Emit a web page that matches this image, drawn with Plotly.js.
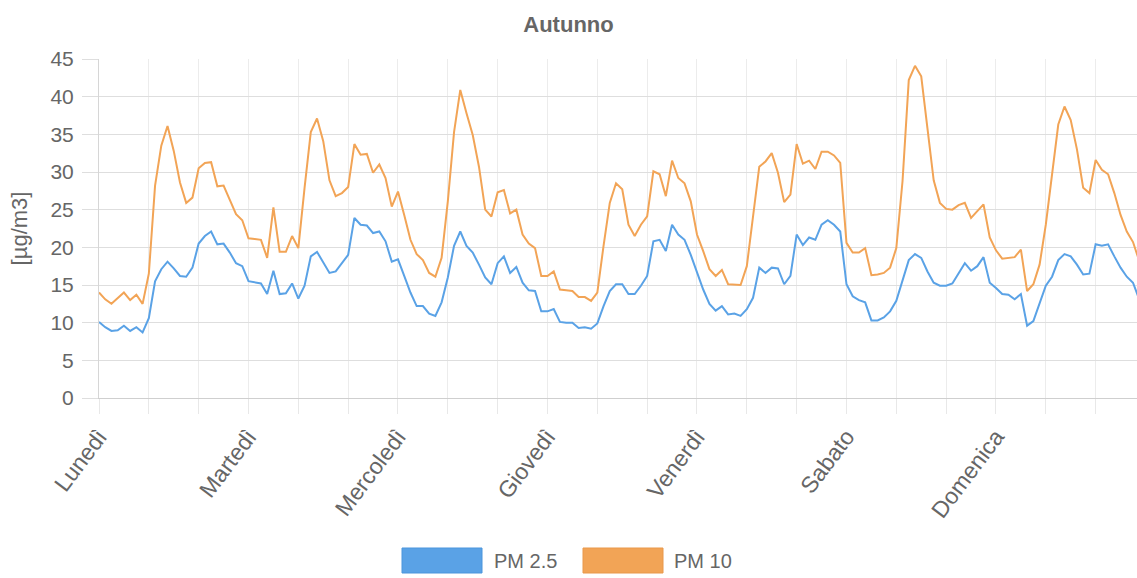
<!DOCTYPE html>
<html>
<head>
<meta charset="utf-8">
<script src="https://cdn.plot.ly/plotly-3.0.1.min.js"></script>
<style>html,body{margin:0;padding:0;background:#fff;}#chart{width:1137px;height:578px;}</style>
</head>
<body>
<div id="chart"></div>
<script>
const dayLabels = ["Lunedì","Martedì","Mercoledì","Giovedì","Venerdì","Sabato","Domenica"];
const hoursPerDay = 24;

const pm25 = [
10.1,9.4,8.9,9.0,9.6,8.9,9.4,8.7,10.6,15.5,17.1,18.1,17.2,16.2,16.1,17.3,20.5,21.5,22.1,20.4,20.5,19.3,17.9,17.5,
15.5,15.4,15.2,13.8,16.9,13.8,13.9,15.2,13.2,14.9,18.8,19.4,17.9,16.6,16.8,17.9,19.0,23.9,23.0,22.9,21.9,22.1,20.8,18.1,
18.4,16.2,14.0,12.2,12.2,11.2,10.9,12.7,16.0,20.2,22.1,20.2,19.3,17.7,16.0,15.1,17.9,18.8,16.6,17.4,15.3,14.3,14.2,11.5,
11.5,11.8,10.1,10.0,10.0,9.3,9.4,9.2,9.9,12.2,14.2,15.1,15.1,13.8,13.8,14.9,16.2,20.8,21.0,19.5,23.0,21.7,21.0,19.0,
16.6,14.4,12.5,11.6,12.2,11.1,11.2,10.9,11.8,13.3,17.3,16.6,17.3,17.2,15.1,16.2,21.7,20.3,21.3,21.0,23.0,23.6,23.0,22.1,
15.1,13.5,13.0,12.7,10.3,10.3,10.7,11.5,12.9,15.5,18.3,19.1,18.6,16.8,15.3,14.9,14.9,15.2,16.6,17.9,16.9,17.5,18.7,15.3,
14.6,13.8,13.7,13.1,13.8,9.6,10.2,12.7,14.9,16.1,18.3,19.1,18.8,17.7,16.4,16.5,20.4,20.2,20.4,18.8,17.3,16.1,15.3,13.1
];

const pm10 = [
14.0,13.1,12.5,13.3,14.0,13.0,13.7,12.5,16.5,28.2,33.5,36.1,32.8,28.6,25.9,26.6,30.5,31.2,31.3,28.1,28.2,26.3,24.4,23.6,
21.2,21.1,21.0,18.6,25.3,19.4,19.4,21.5,19.9,27.9,35.3,37.1,34.1,28.9,26.8,27.2,28.0,33.7,32.3,32.4,29.9,31.0,29.2,25.4,
27.4,24.3,21.0,19.1,18.3,16.6,16.1,18.6,26.1,35.3,40.9,37.8,34.9,30.7,25.0,24.1,27.3,27.6,24.5,25.0,21.7,20.5,19.9,16.2,
16.2,16.8,14.4,14.3,14.2,13.4,13.4,12.9,14.0,20.2,25.9,28.5,27.7,23.0,21.5,23.0,24.1,30.1,29.7,26.8,31.5,29.2,28.5,26.1,
21.7,19.5,17.1,16.2,17.0,15.1,15.1,15.0,17.5,24.4,30.7,31.4,32.5,29.9,26.0,27.0,33.7,31.1,31.5,30.4,32.7,32.7,32.2,31.2,
20.6,19.3,19.3,19.9,16.3,16.4,16.6,17.3,19.9,28.8,42.2,44.1,42.7,35.8,28.9,25.9,25.1,25.0,25.6,25.9,23.9,24.8,25.7,21.3,
19.6,18.5,18.6,18.7,19.7,14.2,15.1,17.7,23.0,29.6,36.3,38.7,36.9,33.0,27.9,27.2,31.6,30.3,29.7,27.2,24.3,22.1,20.7,18.2
];

const seriesNames = ["PM 2.5", "PM 10"];
const chartTitle = "Autunno";
const yTitle = "[µg/m3]";

const xs = pm25.map((_, i) => i);
const tickStep = 8;
const tickvals = [], ticktext = [];
for (let i = 0; i <= pm25.length; i += tickStep) {
  tickvals.push(i);
  ticktext.push(i % hoursPerDay === 0 ? dayLabels[i / hoursPerDay] || "" : "");
}

const blue = "#5aa2e6", orange = "#f2a456";
const font = "Liberation Sans, Arial, sans-serif";

const traces = [
  {x: xs, y: pm25, type: "scatter", mode: "lines", name: seriesNames[0], line: {color: blue, width: 2}, hoverinfo: "skip"},
  {x: xs, y: pm10, type: "scatter", mode: "lines", name: seriesNames[1], line: {color: orange, width: 2}, hoverinfo: "skip"}
];

// legend geometry (pixel -> paper)
const L = 99, W = 1038, T = 59, H = 339;
const px = v => (v - L) / W, py = v => (T + H - v) / H;

const layout = {
  width: 1137, height: 578,
  margin: {l: L, r: 1137 - L - W, t: T, b: 578 - T - H, pad: 0},
  paper_bgcolor: "#fff", plot_bgcolor: "#fff",
  showlegend: false,
  font: {family: font, color: "#666", size: 18},
  title: {text: chartTitle, x: 0.5, xanchor: "center", y: 1 - 24/578, yanchor: "middle", yref: "container",
          font: {family: font, size: 22, color: "#666", weight: "bold"}},
  xaxis: {
    range: [0, W / 6.229], tickmode: "array", tickvals: tickvals, ticktext: ticktext,
    tickangle: -53, ticks: "outside", ticklen: 15, tickcolor: "#e8e8e8", tickwidth: 1,
    showgrid: true, gridcolor: "#ececec", gridwidth: 1, zeroline: false,
    showline: true, linecolor: "#cfcfcf", linewidth: 1,
    tickfont: {family: font, size: 23, color: "#666"}, fixedrange: true
  },
  yaxis: {
    range: [0, 45], tickmode: "array", tickvals: [0,5,10,15,20,25,30,35,40,45],
    ticks: "outside", ticklen: 16, tickcolor: "#dedede", tickwidth: 1, ticklabelstandoff: 4,
    showgrid: true, gridcolor: "#dedede", gridwidth: 1, zeroline: false,
    showline: true, linecolor: "#d6d6d6", linewidth: 1,
    tickfont: {family: font, size: 21, color: "#666"},
    title: {text: yTitle, font: {family: font, size: 22, color: "#666"}, standoff: 16}, fixedrange: true
  },
  shapes: [
    {type: "rect", xref: "paper", yref: "paper", x0: px(402), x1: px(482), y0: py(573), y1: py(548), fillcolor: blue, line: {color: "#4b95dc", width: 1}},
    {type: "rect", xref: "paper", yref: "paper", x0: px(583), x1: px(663), y0: py(573), y1: py(548), fillcolor: orange, line: {color: "#e9984a", width: 1}}
  ],
  annotations: [
    {xref: "paper", yref: "paper", x: px(492), y: py(561), xanchor: "left", yanchor: "middle", text: seriesNames[0], showarrow: false, font: {family: font, size: 20, color: "#666"}},
    {xref: "paper", yref: "paper", x: px(672), y: py(561), xanchor: "left", yanchor: "middle", text: seriesNames[1], showarrow: false, font: {family: font, size: 20, color: "#666"}}
  ]
};

Plotly.newPlot("chart", traces, layout, {displayModeBar: false, staticPlot: true});
</script>
</body>
</html>
